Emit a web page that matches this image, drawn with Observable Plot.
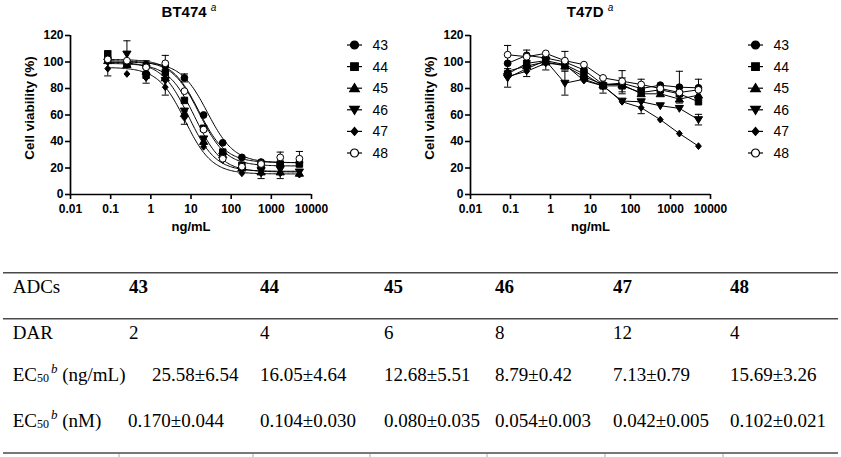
<!DOCTYPE html>
<html><head><meta charset="utf-8">
<script src="https://cdn.jsdelivr.net/npm/d3@7"></script>
<script src="https://cdn.jsdelivr.net/npm/@observablehq/plot@0.6"></script>
<style>
html,body{margin:0;padding:0;background:#fff;}
#root{position:relative;width:841px;height:457px;overflow:hidden;background:#fff;}
#root svg{position:absolute;top:0;}
.ylab{position:absolute;font:bold 13.5px "Liberation Sans",Arial,sans-serif;color:#000;white-space:nowrap;
  transform:translate(-50%,-50%) rotate(-90deg);line-height:1;}
</style></head><body><div id="root"></div>
<script>
// ---------- data ----------
const seriesNames = ["43", "44", "45", "46", "47", "48"];
const concentrations = [0.0847, 0.254, 0.762, 2.29, 6.86, 20.6, 61.7, 185, 556, 1667, 5000];
const xTicks = [0.01, 0.1, 1, 10, 100, 1000, 10000];
const yTicks = [0, 20, 40, 60, 80, 100, 120];

// BT474 cell viability (%)
const bt474_43 = [103, 100, 98, 97, 88, 60, 39, 28, 24.5, 23, 24];
const bt474_44 = [106, 99, 90, 92, 71, 50, 32, 22, 22, 23, 23];
const bt474_45 = [101, 98, 93, 88, 61, 40, 30, 20, 17, 17, 16];
const bt474_46 = [100, 106, 95, 86, 63, 42, 29, 18, 18, 19, 17];
const bt474_47 = [95, 91, 88, 81, 58, 36, 26, 16, 16, 16, 15];
const bt474_48 = [102, 101, 96, 99, 78, 49, 27, 21, 23, 28, 27];
// BT474 error bars (SD; 0 = hidden by the marker)
const bt474_43_sd = [0, 0, 3, 0, 3, 0, 0, 0, 0, 0, 0];
const bt474_44_sd = [2.5, 0, 6, 0, 0, 0, 0, 0, 0, 0, 0];
const bt474_45_sd = [0, 0, 0, 0, 0, 0, 0, 0, 5, 5, 0];
const bt474_46_sd = [0, 10, 0, 0, 0, 0, 0, 0, 0, 0, 0];
const bt474_47_sd = [5.5, 0, 0, 6, 5, 0, 0, 0, 0, 0, 0];
const bt474_48_sd = [0, 0, 0, 6, 0, 0, 0, 0, 0, 4, 5.5];
// BT474 fitted 4-parameter curves (top, bottom, Hill slope); EC50 from the table
const bt474Top = [100, 101, 99, 100, 96, 102];
const bt474Bottom = [24, 21.5, 17, 17.5, 15.5, 24];
const bt474Hill = [1.3, 1.3, 1.3, 1.3, 1.3, 1.3];

// T47D cell viability (%)
const t47d_43 = [99, 105, 103, 100, 94, 83, 84, 80, 82.5, 81, 80.5];
const t47d_44 = [91, 99, 101, 98, 91, 82, 82, 77, 79, 76, 70];
const t47d_45 = [93, 97, 100, 97, 89, 83, 83, 76, 76, 72, 75];
const t47d_46 = [88, 95, 101, 84, 87, 82, 70.5, 70, 67, 65, 56.5];
const t47d_47 = [89, 93, 99, 98, 86, 82, 70, 65.5, 56.5, 46, 36.5];
const t47d_48 = [105.5, 104, 106.5, 101, 98, 88, 85.5, 83, 80, 77, 79];
const t47d_43_sd = [0, 4, 0, 0, 0, 0, 0, 0, 0, 12, 6.5];
const t47d_44_sd = [0, 0, 0, 0, 0, 5.5, 6, 0, 0, 0, 0];
const t47d_45_sd = [0, 0, 0, 0, 0, 0, 0, 0, 0, 0, 0];
const t47d_46_sd = [7, 0, 0, 9, 0, 0, 0, 0, 0, 0, 4];
const t47d_47_sd = [0, 4, 5, 0, 0, 0, 0, 4.5, 0, 0, 0];
const t47d_48_sd = [7, 0, 0, 7, 0, 0, 8, 4, 0, 0, 0];

// table
const tableRowLabels = ["ADCs", "DAR", "EC50 (ng/mL)", "EC50 (nM)"];
const adcs = ["43", "44", "45", "46", "47", "48"];
const dar = ["2", "4", "6", "8", "12", "4"];
const ec50ng = ["25.58±6.54", "16.05±4.64", "12.68±5.51", "8.79±0.42", "7.13±0.79", "15.69±3.26"];
const ec50nM = ["0.170±0.044", "0.104±0.030", "0.080±0.035", "0.054±0.003", "0.042±0.005", "0.102±0.021"];

// ---------- symbols ----------
function sym(fn) { return {draw(ctx, size) { fn(ctx, Math.sqrt(size / Math.PI)); }}; }
const symCircle = sym((c, r) => { c.moveTo(r, 0); c.arc(0, 0, r, 0, 2 * Math.PI); c.closePath(); });
const symSquare = sym((c, r) => { const s = r * 0.95; c.rect(-s, -s, 2 * s, 2 * s); });
const symUp = sym((c, r) => { const s = r * 1.15; c.moveTo(0, -s); c.lineTo(s * 1.05, s * 0.75); c.lineTo(-s * 1.05, s * 0.75); c.closePath(); });
const symDown = sym((c, r) => { const s = r * 1.15; c.moveTo(0, s); c.lineTo(s * 1.05, -s * 0.75); c.lineTo(-s * 1.05, -s * 0.75); c.closePath(); });
const symDiamond = sym((c, r) => { c.moveTo(0, -r); c.lineTo(r * 0.85, 0); c.lineTo(0, r); c.lineTo(-r * 0.85, 0); c.closePath(); });
const symCap = sym((c, r) => { c.moveTo(-r, 0); c.lineTo(r, 0); });
const symbols = [symCircle, symSquare, symUp, symDown, symDiamond, symCircle];
const fills = ["black", "black", "black", "black", "black", "white"];

// ---------- build rows ----------
function rows(valueArrays, sdArrays) {
  const out = [];
  seriesNames.forEach((s, i) => concentrations.forEach((c, j) =>
    out.push({series: s, x: c, y: valueArrays[i][j], sd: sdArrays[i][j], fill: fills[i]})));
  return out;
}
const btPoints = rows([bt474_43, bt474_44, bt474_45, bt474_46, bt474_47, bt474_48],
  [bt474_43_sd, bt474_44_sd, bt474_45_sd, bt474_46_sd, bt474_47_sd, bt474_48_sd]);
const tPoints = rows([t47d_43, t47d_44, t47d_45, t47d_46, t47d_47, t47d_48],
  [t47d_43_sd, t47d_44_sd, t47d_45_sd, t47d_46_sd, t47d_47_sd, t47d_48_sd]);

const ec50Values = ec50ng.map(v => parseFloat(v));
const btCurves = [];
seriesNames.forEach((s, i) => {
  const lo = Math.log10(concentrations[0]), hi = Math.log10(concentrations[concentrations.length - 1]);
  d3.range(0, 151).forEach(k => {
    const c = Math.pow(10, lo + (hi - lo) * k / 150);
    btCurves.push({series: s, x: c,
      y: bt474Bottom[i] + (bt474Top[i] - bt474Bottom[i]) / (1 + Math.pow(c / ec50Values[i], bt474Hill[i]))});
  });
});

// ---------- charts ----------
const FONT = '"Liberation Sans", Arial, Helvetica, sans-serif';
function chart({width, marginLeft, marginRight, points, lineMarks}) {
  const err = points.filter(d => d.sd > 0);
  return Plot.plot({
    width, height: 240, marginLeft, marginRight, marginTop: 35, marginBottom: 46,
    style: {fontFamily: FONT, color: "black", background: "transparent", overflow: "visible"},
    x: {type: "log", domain: [0.01, 10000]},
    y: {domain: [0, 120]},
    symbol: {domain: seriesNames, range: symbols},
    marks: [
      Plot.ruleX(err, {x: "x", y1: d => d.y - d.sd, y2: d => d.y + d.sd, stroke: "black", strokeWidth: 1}),
      Plot.dot(err, {x: "x", y: d => d.y + d.sd, symbol: symCap, r: 3.6, stroke: "black", fill: "none", strokeWidth: 1}),
      Plot.dot(err, {x: "x", y: d => d.y - d.sd, symbol: symCap, r: 3.6, stroke: "black", fill: "none", strokeWidth: 1}),
      lineMarks,
      Plot.dot(points, {x: "x", y: "y", symbol: "series", fill: "fill", stroke: "black", strokeWidth: 1, r: 3.4}),
      Plot.ruleY([0], {stroke: "black", strokeWidth: 1.7}),
      Plot.ruleX([0.01], {stroke: "black", strokeWidth: 1.7}),
      Plot.axisX({ticks: xTicks, tickFormat: d => String(d), tickSize: 5, tickPadding: 5, fontSize: 12, fontWeight: "bold", strokeWidth: 1.6, label: null}),
      Plot.axisY({ticks: yTicks, tickSize: 5, tickPadding: 2, fontSize: 12, fontWeight: "bold", strokeWidth: 1.6, label: null}),
      Plot.text(["ng/mL"], {frameAnchor: "bottom", dy: 36, fontSize: 13, fontWeight: "bold"})
    ]
  });
}

function decorate(svg, title, cx, lx1, lx2, tx) {
  const s = d3.select(svg);
  const t = s.append("text").attr("x", cx).attr("y", 17).attr("text-anchor", "middle")
    .attr("font-family", FONT).attr("font-size", 15).attr("font-weight", "bold").attr("fill", "black");
  t.append("tspan").text(title + " ");
  t.append("tspan").attr("font-style", "italic").attr("font-weight", "normal").attr("font-size", 10).attr("dy", -6).text("a");
  const g = s.append("g");
  seriesNames.forEach((name, i) => {
    const y = 45 + i * 21.6;
    g.append("line").attr("x1", lx1).attr("x2", lx2).attr("y1", y).attr("y2", y).attr("stroke", "black").attr("stroke-width", 1.2);
    const p = d3.path(); symbols[i].draw(p, Math.PI * 4 * 4);
    g.append("path").attr("d", p.toString()).attr("transform", `translate(${(lx1 + lx2) / 2},${y})`)
      .attr("fill", fills[i]).attr("stroke", "black").attr("stroke-width", 1.2);
    g.append("text").attr("x", tx).attr("y", y).attr("dy", "0.36em").attr("font-family", FONT)
      .attr("font-size", 14).attr("font-weight", "normal").attr("text-anchor", "start").attr("fill", "black").text(name);
  });
}

const root = d3.select("#root");

// table (SVG text)
const SERIF = '"Liberation Serif", "Times New Roman", Times, serif';
const tbl = root.append("svg").attr("width", 841).attr("height", 457).style("left", "0px");
[272.7, 318.7, 453].forEach(y => tbl.append("line").attr("x1", 3).attr("x2", 838).attr("y1", y).attr("y2", y)
  .attr("stroke", "#4a4a4a").attr("stroke-width", 1.6));
[119, 253, 370, 487, 605, 723].forEach(x => tbl.append("line").attr("x1", x).attr("x2", x).attr("y1", 454).attr("y2", 457)
  .attr("stroke", "#aaa").attr("stroke-width", 1));
const colX = [129, 260, 384, 495, 613, 730];
const rowY = [292.5, 339, 381, 427];
function cell(x, y, txt, bold) {
  tbl.append("text").attr("x", x).attr("y", y).attr("font-family", SERIF).attr("font-size", 19)
    .attr("font-weight", bold ? "bold" : "normal").attr("fill", "black").text(txt);
}
function ecLabel(y, unit) {
  const t = tbl.append("text").attr("x", 12.7).attr("y", y).attr("font-family", SERIF).attr("font-size", 19).attr("fill", "black");
  t.append("tspan").text("EC");
  t.append("tspan").attr("font-size", 12).attr("dy", 1).text("50");
  t.append("tspan").attr("font-size", 13).attr("font-style", "italic").attr("dy", -9).attr("dx", 2).text("b");
  t.append("tspan").attr("dy", 8).text(" " + unit);
}
cell(12.7, rowY[0], tableRowLabels[0], false);
cell(12.7, rowY[1], tableRowLabels[1], false);
ecLabel(rowY[2], "(ng/mL)");
ecLabel(rowY[3], "(nM)");
adcs.forEach((v, i) => cell(colX[i], rowY[0], v, true));
dar.forEach((v, i) => cell(colX[i], rowY[1], v, false));
ec50ng.forEach((v, i) => cell(i === 0 ? 152 : colX[i], rowY[2], v, false));
ec50nM.forEach((v, i) => cell(i === 0 ? 128 : colX[i], rowY[3], v, false));

// left chart: BT474
const left = chart({width: 420, marginLeft: 70, marginRight: 109, points: btPoints,
  lineMarks: Plot.line(btCurves, {x: "x", y: "y", z: "series", stroke: "black", strokeWidth: 1})});
left.style.left = "0px";
root.node().appendChild(left);
decorate(left, "BT474", 189, 347, 362, 372.5);

// right chart: T47D
const right = chart({width: 421, marginLeft: 50, marginRight: 131, points: tPoints,
  lineMarks: Plot.line(tPoints, {x: "x", y: "y", z: "series", stroke: "black", strokeWidth: 1})});
right.style.left = "420px";
root.node().appendChild(right);
decorate(right, "T47D", 170, 328, 343, 353.5);

// y-axis titles (HTML, rotated)
[[30, 108], [430, 108]].forEach(([x, y]) => {
  root.append("div").attr("class", "ylab").style("left", x + "px").style("top", y + "px").text("Cell viability (%)");
});
</script></body></html>
